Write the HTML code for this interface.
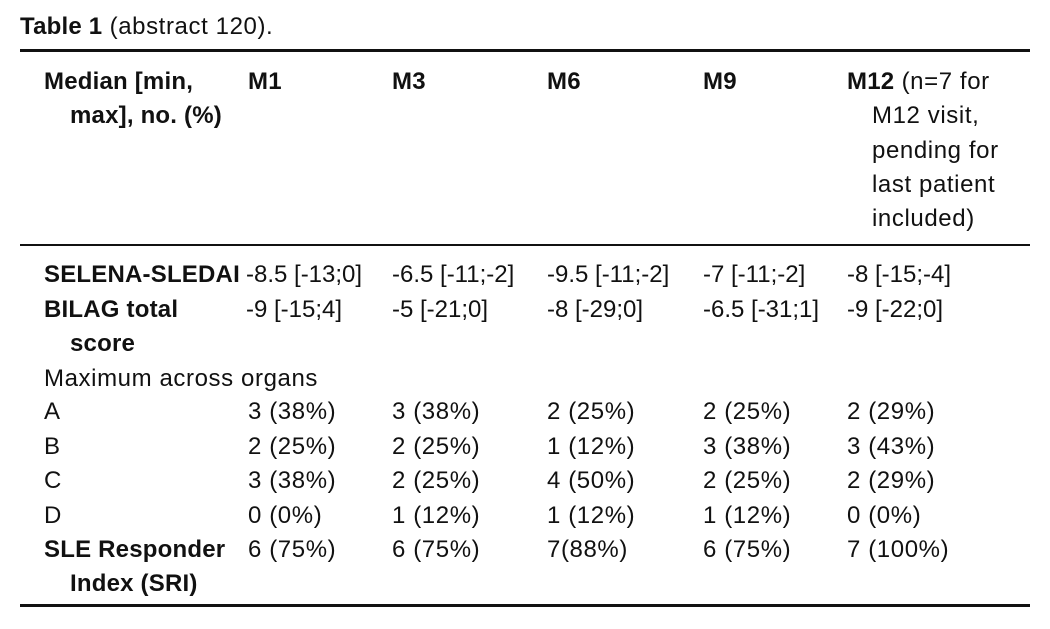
<!DOCTYPE html>
<html><head><meta charset="utf-8"><style>
body{margin:0;width:1050px;height:629px;background:#fff;position:relative;overflow:hidden;font-family:"Liberation Sans",sans-serif;font-size:24px;letter-spacing:0.6px;color:#111}
.t{position:absolute;white-space:nowrap;line-height:26px}
b{font-weight:bold;letter-spacing:0.2px}
.r{position:absolute;left:20px;width:1010px;background:#111}
</style></head><body>
<div class="t" style="left:20px;top:14px"><b>Table 1</b> (abstract 120).</div>
<div class="r" style="top:49px;height:3px"></div>
<div class="t" style="left:44px;top:69px"><b>Median [min,</b></div>
<div class="t" style="left:70px;top:103px"><b>max], no. (%)</b></div>
<div class="t" style="left:248px;top:69px"><b>M1</b></div>
<div class="t" style="left:392px;top:69px"><b>M3</b></div>
<div class="t" style="left:547px;top:69px"><b>M6</b></div>
<div class="t" style="left:703px;top:69px"><b>M9</b></div>
<div class="t" style="left:847px;top:69px"><b>M12</b> (n=7 for</div>
<div class="t" style="left:872px;top:103px">M12 visit,</div>
<div class="t" style="left:872px;top:138px">pending for</div>
<div class="t" style="left:872px;top:172px">last patient</div>
<div class="t" style="left:872px;top:206px">included)</div>
<div class="r" style="top:244px;height:2px"></div>

<div class="t" style="left:44px;top:262px"><b>SELENA-SLEDAI</b></div>
<div class="t" style="left:246px;top:262px;letter-spacing:0">-8.5 [-13;0]</div>
<div class="t" style="left:392px;top:262px;letter-spacing:0">-6.5 [-11;-2]</div>
<div class="t" style="left:547px;top:262px;letter-spacing:0">-9.5 [-11;-2]</div>
<div class="t" style="left:703px;top:262px;letter-spacing:0">-7 [-11;-2]</div>
<div class="t" style="left:847px;top:262px;letter-spacing:0">-8 [-15;-4]</div>

<div class="t" style="left:44px;top:297px"><b>BILAG total</b></div>
<div class="t" style="left:70px;top:331px"><b>score</b></div>
<div class="t" style="left:246px;top:297px;letter-spacing:0">-9 [-15;4]</div>
<div class="t" style="left:392px;top:297px;letter-spacing:0">-5 [-21;0]</div>
<div class="t" style="left:547px;top:297px;letter-spacing:0">-8 [-29;0]</div>
<div class="t" style="left:703px;top:297px;letter-spacing:0">-6.5 [-31;1]</div>
<div class="t" style="left:847px;top:297px;letter-spacing:0">-9 [-22;0]</div>

<div class="t" style="left:44px;top:366px">Maximum across organs</div>

<div class="t" style="left:44px;top:399px">A</div>
<div class="t" style="left:248px;top:399px">3 (38%)</div>
<div class="t" style="left:392px;top:399px">3 (38%)</div>
<div class="t" style="left:547px;top:399px">2 (25%)</div>
<div class="t" style="left:703px;top:399px">2 (25%)</div>
<div class="t" style="left:847px;top:399px">2 (29%)</div>

<div class="t" style="left:44px;top:434px">B</div>
<div class="t" style="left:248px;top:434px">2 (25%)</div>
<div class="t" style="left:392px;top:434px">2 (25%)</div>
<div class="t" style="left:547px;top:434px">1 (12%)</div>
<div class="t" style="left:703px;top:434px">3 (38%)</div>
<div class="t" style="left:847px;top:434px">3 (43%)</div>

<div class="t" style="left:44px;top:468px">C</div>
<div class="t" style="left:248px;top:468px">3 (38%)</div>
<div class="t" style="left:392px;top:468px">2 (25%)</div>
<div class="t" style="left:547px;top:468px">4 (50%)</div>
<div class="t" style="left:703px;top:468px">2 (25%)</div>
<div class="t" style="left:847px;top:468px">2 (29%)</div>

<div class="t" style="left:44px;top:503px">D</div>
<div class="t" style="left:248px;top:503px">0 (0%)</div>
<div class="t" style="left:392px;top:503px">1 (12%)</div>
<div class="t" style="left:547px;top:503px">1 (12%)</div>
<div class="t" style="left:703px;top:503px">1 (12%)</div>
<div class="t" style="left:847px;top:503px">0 (0%)</div>

<div class="t" style="left:44px;top:537px"><b>SLE Responder</b></div>
<div class="t" style="left:70px;top:571px"><b>Index (SRI)</b></div>
<div class="t" style="left:248px;top:537px">6 (75%)</div>
<div class="t" style="left:392px;top:537px">6 (75%)</div>
<div class="t" style="left:547px;top:537px">7(88%)</div>
<div class="t" style="left:703px;top:537px">6 (75%)</div>
<div class="t" style="left:847px;top:537px">7 (100%)</div>

<div class="r" style="top:604px;height:3px"></div>
</body></html>
